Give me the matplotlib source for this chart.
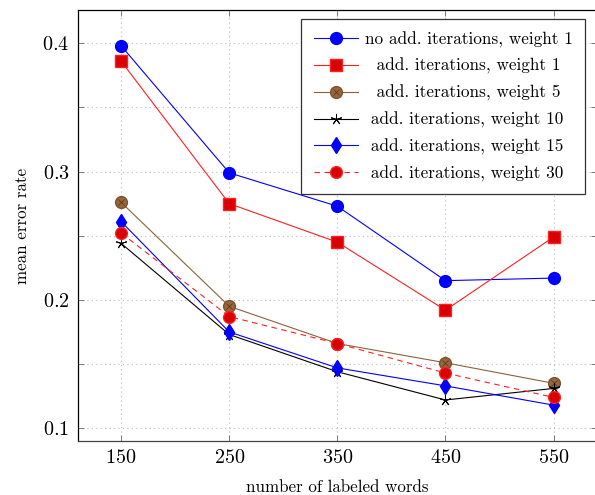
import numpy as np
import matplotlib.pyplot as plt
from matplotlib.legend_handler import HandlerTuple

plt.rcParams['font.family'] = ['cmr10', 'DejaVu Serif']
plt.rcParams['axes.formatter.use_mathtext'] = True
plt.rcParams['mathtext.fontset'] = 'cm'

# data
words = [150, 250, 350, 450, 550]
no_add_w1 = [0.398, 0.299, 0.273, 0.215, 0.217]
add_w1 = [0.386, 0.275, 0.245, 0.192, 0.249]
add_w5 = [0.276, 0.195, 0.166, 0.151, 0.135]
add_w10 = [0.244, 0.173, 0.144, 0.122, 0.131]
add_w15 = [0.261, 0.175, 0.147, 0.133, 0.118]
add_w30 = [0.252, 0.187, 0.166, 0.143, 0.124]

labels = ["no add. iterations, weight 1",
          "  add. iterations, weight 1",
          "  add. iterations, weight 5",
          " add. iterations, weight 10",
          " add. iterations, weight 15",
          " add. iterations, weight 30"]

x_ticks = [150, 250, 350, 450, 550]
y_ticks = [0.1, 0.2, 0.3, 0.4]

fig = plt.figure(figsize=(5.95, 4.95), dpi=100)
ax = fig.add_axes([0.131, 0.109, 0.872, 0.871])

lw = 0.8
h1, = ax.plot(words, no_add_w1, color='blue', lw=lw, marker='o', ms=8.5,
              mfc='blue', mec='blue')
h2, = ax.plot(words, add_w1, color='#ff2020', lw=lw, marker='s', ms=8,
              mfc='#d80000', mec='#ff2020')
h3, = ax.plot(words, add_w5, color='#8c6239', lw=lw, marker='o', ms=8.5,
              mfc='#99663a', mec='#7a5230')
h3x, = ax.plot(words, add_w5, ls='none', marker='x', ms=5, mew=0.6,
               color='#5a3a1a')
h4, = ax.plot(words, add_w10, color='black', lw=lw, marker=(5, 2, 0), ms=8,
              mew=0.7)
h5, = ax.plot(words, add_w15, color='blue', lw=lw, marker='d', ms=8,
              mfc='blue', mec='blue')
h6, = ax.plot(words, add_w30, color='#ff2020', lw=lw, ls=(0, (5, 4)),
              marker='o', ms=8.5, mfc='#d80000', mec='#ff2020')

ax.set_xlim(110, 590)
ax.set_ylim(0.090, 0.426)
ax.set_xticks(x_ticks)
ax.set_yticks(y_ticks)
ax.set_yticks([0.15, 0.25, 0.35], minor=True)
ax.tick_params(which='both', direction='in', top=True, right=True,
               length=4, width=0.6, color='#666666', labelsize=14.5, pad=6)
ax.grid(True, which='both', ls=(0, (1, 3)), color='#bbbbbb', lw=0.8)
for s in ax.spines.values():
    s.set_linewidth(0.9)
ax.spines['bottom'].set_color('#444444')

ax.set_xlabel("number of labeled words", fontsize=12.2, labelpad=9)
ax.set_ylabel("mean error rate", fontsize=12.2, labelpad=9)

leg = ax.legend([h1, h2, (h3, h3x), h4, h5, h6], labels,
                handler_map={tuple: HandlerTuple(ndivide=1, pad=0)},
                loc='upper right', bbox_to_anchor=(0.977, 0.979),
                fontsize=12.4, fancybox=False, edgecolor='#333333',
                framealpha=1, handlelength=2.55, labelspacing=0.61,
                borderpad=0.72, handletextpad=0.4, borderaxespad=0)
leg.get_frame().set_linewidth(0.9)

fig.savefig("out.png", dpi=100)
